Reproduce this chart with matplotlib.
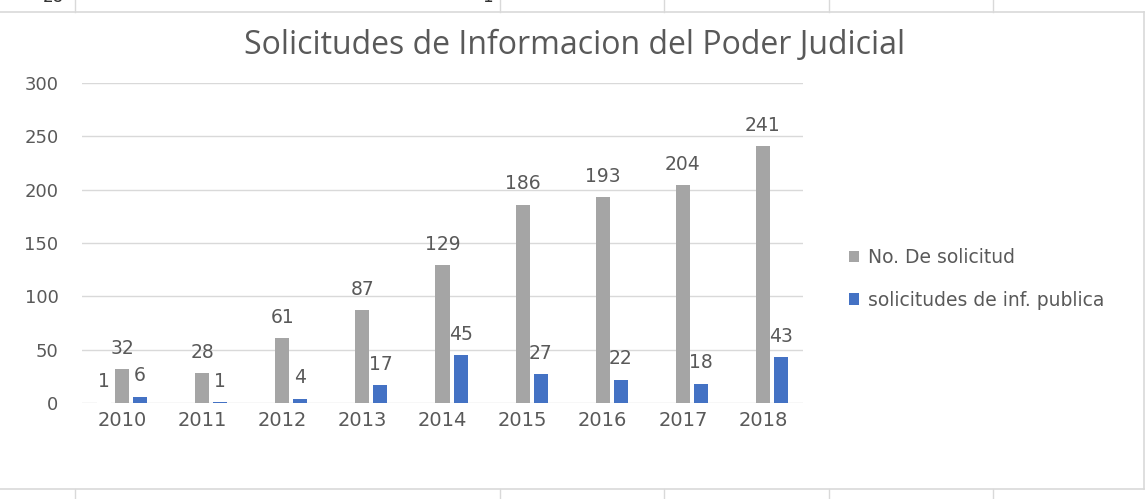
import matplotlib.pyplot as plt
import numpy as np

years = ["2010", "2011", "2012", "2013", "2014", "2015", "2016", "2017", "2018"]
no_solicitud = [32, 28, 61, 87, 129, 186, 193, 204, 241]
inf_publica = [6, 1, 4, 17, 45, 27, 22, 18, 43]
# unnamed third series in the sheet, only 2010 has a value
extra_series = [1, None, None, None, None, None, None, None, None]

GREY = "#A5A5A5"
BLUE = "#4472C4"
TEXT = "#595959"
LINE = "#D9D9D9"

plt.rcParams["font.family"] = ["DejaVu Sans"]

fig = plt.figure(figsize=(11.47, 4.99), dpi=100)

# spreadsheet cell lines around the chart object
for x in [75, 500, 664, 829, 993]:
    fig.add_artist(plt.Line2D([x / 1147, x / 1147], [1 - 12 / 499, 1], color=LINE, lw=1))
    fig.add_artist(plt.Line2D([x / 1147, x / 1147], [0, 1 - 489 / 499], color=LINE, lw=1))
fig.add_artist(plt.Line2D([0, 1144 / 1147], [1 - 12 / 499, 1 - 12 / 499], color=LINE, lw=1.2))
fig.add_artist(plt.Line2D([0, 1144 / 1147], [1 - 489 / 499, 1 - 489 / 499], color=LINE, lw=1.2))
fig.add_artist(plt.Line2D([1144 / 1147, 1144 / 1147], [1 - 489 / 499, 1 - 12 / 499], color=LINE, lw=1.2))
fig.text(53 / 1147, 1.006, "28", ha="center", va="center", fontsize=12, color="#333333")
fig.text(487 / 1147, 1.006, "1", ha="center", va="center", fontsize=12, color="#333333")

ax = fig.add_axes([82 / 1147, 96 / 499, 721 / 1147, 320 / 499])

x = np.arange(len(years))
width = 0.175
offset = 0.225

extra_vals = [v if v is not None else 0 for v in extra_series]
ax.bar(x - offset, extra_vals, width, color="white")
b1 = ax.bar(x, no_solicitud, width, color=GREY, label="No. De solicitud")
b2 = ax.bar(x + offset, inf_publica, width, color=BLUE, label="solicitudes de inf. publica")

label_kw = dict(ha="center", va="center", textcoords="offset points",
                xytext=(0, 15), fontsize=13.5, color=TEXT)
for i, v in enumerate(extra_series):
    if v is not None:
        ax.annotate(str(v), (x[i] - offset, v), **label_kw)
for i, v in enumerate(no_solicitud):
    ax.annotate(str(v), (x[i], v), **label_kw)
for i, v in enumerate(inf_publica):
    ax.annotate(str(v), (x[i] + offset, v), **label_kw)

ax.set_xlim(-0.5, len(years) - 0.5)
ax.set_ylim(0, 300)
ax.set_yticks(range(0, 301, 50))
ax.set_xticks(x)
ax.set_xticklabels(years)
ax.yaxis.grid(True, color=LINE, lw=1)
ax.set_axisbelow(True)
for side in ["top", "right", "left", "bottom"]:
    ax.spines[side].set_visible(False)
ax.tick_params(axis="both", length=0, colors=TEXT)
ax.tick_params(axis="y", pad=17, labelsize=13)
ax.tick_params(axis="x", pad=6, labelsize=14)

fig.text(575 / 1147, 1 - 45 / 499, "Solicitudes de Informacion del Poder Judicial",
         ha="center", va="center", fontsize=23, color=TEXT, family="Open Sans")

fig.legend(handles=[b1, b2], loc="center left", bbox_to_anchor=(832 / 1147, 1 - 279 / 499),
           frameon=False, fontsize=13.5, labelcolor=TEXT, handlelength=0.55, handleheight=0.55,
           handletextpad=0.45, labelspacing=1.25)

fig.savefig("out.png", dpi=100, facecolor="white")
